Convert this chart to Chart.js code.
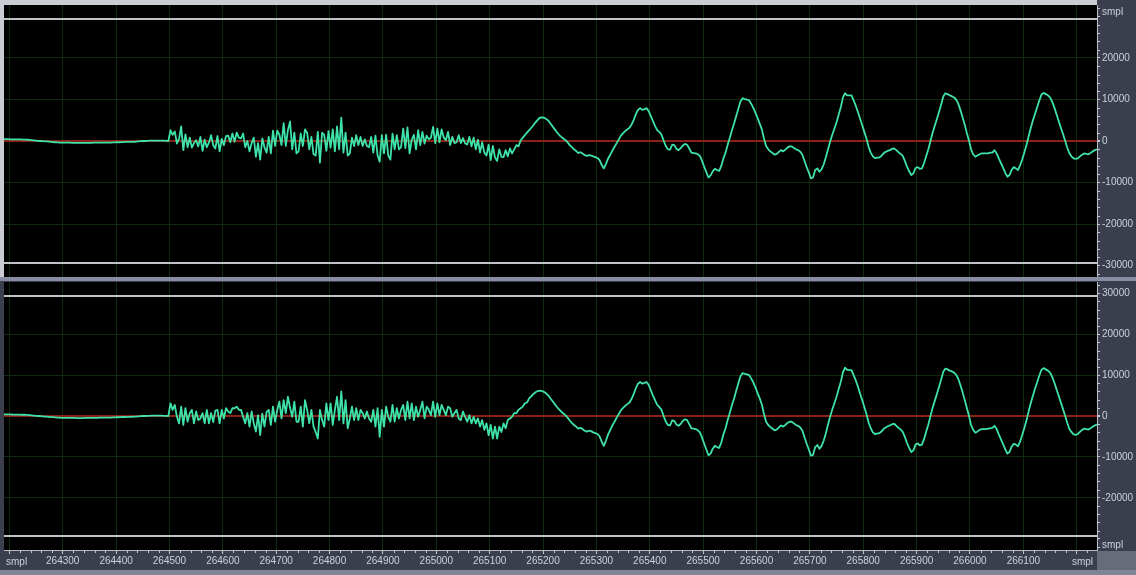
<!DOCTYPE html>
<html lang="en">
<head>
<meta charset="utf-8">
<title>Waveform view</title>
<script src="https://cdn.jsdelivr.net/npm/chart.js@4.4.1/dist/chart.umd.min.js"></script>
<style>
  html, body { margin:0; padding:0; width:1136px; height:575px; overflow:hidden; background:#3b3f4d; }
  #view { position:relative; width:1136px; height:575px; }
  #view canvas { position:absolute; left:0; }
  #topPane { top:0; }
  #bottomPane { top:281px; }
  #divider { position:absolute; left:0; top:277px; width:1136px; height:4px; background:#878ea3; }
</style>
</head>
<body>
<div id="view">
  <canvas id="topPane" width="1136" height="277"></canvas>
  <div id="divider"></div>
  <canvas id="bottomPane" width="1136" height="294"></canvas>
</div>
<script>
// Sample positions: first sample shown and spacing between stored values
const firstSample = 264190;
const sampleStep = 4;

// Time ruler ticks (samples) and level ruler ticks (sample values)
const sampleTicks = [264200, 264300, 264400, 264500, 264600, 264700, 264800, 264900, 265000,
  265100, 265200, 265300, 265400, 265500, 265600, 265700, 265800, 265900, 266000, 266100, 266200];
const levelTicks = [30000, 20000, 10000, 0, -10000, -20000, -30000];
const clipLevel = 29400;

// Channel 1 (upper pane)
const leftChannel = [
  450,450,450,400,400,400,400,400,400,350,
  350,300,250,200,150,100,50,0,-50,-100,
  -100,-150,-200,-250,-300,-350,-400,-400,-400,-400,
  -400,-400,-450,-450,-450,-450,-450,-450,-450,-450,
  -450,-450,-400,-400,-400,-400,-400,-400,-400,-400,
  -400,-350,-350,-300,-300,-250,-250,-200,-200,-200,
  -200,-200,-150,-100,-50,0,0,50,100,100,
  100,100,100,100,100,100,50,
  0,2600,1500,2300,-600,500,3500,-2200,1600,-1500,
  800,-1600,-500,200,-1300,1000,-2400,300,-1500,-400,
  1400,-1000,-1800,1200,-2500,500,-1000,1200,1300,-300,
  1800,-200,2000,800,600,1800,-1500,0,-2500,-500,
  800,-3800,-500,-4500,600,-1500,-2800,1000,-3000,2500,
  -1200,2500,1500,-1000,4300,-1200,2600,4700,-2000,2000,
  -3000,-2500,1800,-1200,2800,2000,-2000,1000,-3200,-3500,
  2200,-5200,2000,1500,-2400,2400,-1600,2800,-2500,3500,
  -2000,5600,-2800,2000,-3500,-3000,800,-1200,1400,-1000,
  1000,-1200,400,-1200,-1500,1000,-2800,1300,-3500,-5000,
  1400,-3000,1500,-3500,-4500,1800,-2000,1400,-2000,-1500,
  3000,-1700,3300,-3000,300,1500,-2000,2600,-1000,2200,
  -600,1300,400,800,3400,-500,3000,-300,2800,800,
  200,2200,-1000,1000,-500,-300,1400,-500,700,-600,
  -800,1000,-1300,800,-2000,300,-2800,-300,-2800,-3500,
  -900,-4600,-1200,-4000,-4800,-2000,-3800,-3900,-2200,-3700,
  -1800,-3000,-2000,-1000,-1300,100,800,1400,2000,2600,
  3200,3800,4500,5100,5600,5700,5600,5300,4900,4200,
  3500,2800,2100,1500,1000,600,200,-300,-1000,-1500,
  -2000,-2400,-2900,-2700,-3000,-3400,-3600,-3400,-3500,-3700,
  -3900,-4100,-4600,-5800,-6600,-5500,-4200,-3300,-2300,-1400,
  -500,400,1300,1900,2400,2800,3200,4000,5100,6500,
  7500,7900,7500,7700,7900,7200,6000,4800,3600,2600,
  2200,1500,100,-1200,-2000,-2100,-900,-1000,-1900,-2200,
  -1700,-1100,-700,-900,-1800,-2800,-2900,-3000,-3200,-3600,
  -4800,-6200,-7500,-8800,-8300,-7300,-6700,-7000,-7200,-6000,
  -4200,-2800,-900,800,2600,4200,6000,7800,9500,10300,
  10100,10000,9800,9000,8000,6800,5500,4200,2800,600,
  -1200,-2000,-2500,-2900,-3300,-3100,-2600,-2200,-2500,-2100,
  -1600,-1300,-1300,-1700,-2000,-2200,-2600,-3300,-4800,-6300,
  -7600,-9000,-8800,-7000,-6600,-7400,-6800,-5600,-3900,-2000,
  -100,1500,3000,4500,6400,8200,10500,11500,11000,11000,
  11000,9800,8500,7000,5400,3800,2200,600,-1400,-2800,
  -3700,-4100,-4000,-4000,-3600,-3000,-2600,-2400,-2200,-1900,
  -1800,-2200,-2700,-3100,-3600,-4800,-6200,-7300,-8200,-7800,
  -6500,-6300,-6700,-6600,-5300,-3600,-2000,0,2000,3700,
  5300,7000,8800,10700,11500,11300,11000,10800,10500,10000,
  9000,7500,5800,4000,2000,200,-2000,-3200,-3800,-3500,
  -3200,-3000,-3000,-3000,-3000,-2800,-2800,-2200,-3000,-4200,
  -5300,-6400,-7600,-8600,-8200,-7000,-6300,-6600,-7000,-5800,
  -4400,-2700,-900,1200,3200,5000,6600,8200,9800,11200,
  11600,11300,11000,10500,9500,8100,6500,4900,3300,1800,
  200,-1500,-2900,-3700,-4200,-4300,-4200,-3700,-3300,-3000,
  -3100,-3200,-2900,-2500,-2200,-2000
];

// Channel 2 (lower pane)
const rightChannel = [
  400,400,400,400,350,350,350,350,300,300,
  300,250,200,150,100,50,0,-50,-100,-150,
  -150,-200,-250,-300,-350,-400,-400,-450,-450,-450,
  -450,-450,-450,-450,-500,-500,-500,-500,-450,-450,
  -450,-450,-450,-450,-450,-400,-400,-400,-400,-400,
  -400,-350,-350,-300,-300,-250,-250,-250,-200,-200,
  -200,-150,-150,-100,-50,0,0,50,50,100,
  100,100,100,100,100,50,50,
  0,3100,1500,2700,-200,-1800,2300,-2200,1900,-1400,
  700,1500,-1800,1100,-1000,-600,700,-1800,1500,-1800,
  700,-1500,1300,1500,-1800,1500,-600,1900,1100,700,
  1900,1900,2300,1500,1500,-200,-1800,700,-2600,1100,
  -1800,-3800,200,-4700,600,-2600,1000,1500,-2200,2300,
  -1400,1500,3500,-600,3900,700,4700,2000,-200,3500,
  -1400,-1400,2300,-2600,3900,1500,-1800,1500,-2600,-3900,
  -5500,1500,-1000,-2600,3100,-1000,3100,-2200,1500,4700,
  -1000,6000,-1800,3900,-3000,-600,2300,-1000,1900,-1000,
  1500,700,-600,1100,-600,-1400,1500,-2600,1900,-5100,
  1500,-2600,2300,-200,-1400,2700,-1400,1900,-600,1500,
  2700,-1000,3500,-600,3100,-1000,2300,-200,1500,3500,
  -600,2300,1500,200,3500,-200,3100,200,2700,1500,
  200,2300,1900,-200,700,1500,-600,-1000,1100,-200,
  -1400,200,-1800,-200,-1800,-600,-2600,-1000,-3400,-1800,
  -4700,-2200,-5500,-2600,-5500,-2600,-3900,-1800,-3000,-1000,
  -600,-200,700,700,1500,1900,2300,3100,3300,4300,
  4800,5400,5800,6100,6200,6100,5900,5500,5000,4300,
  3600,2900,2200,1600,1100,600,200,-400,-1100,-1700,
  -2200,-2600,-3100,-2900,-3200,-3600,-3800,-3600,-3700,-4000,
  -4200,-4400,-5000,-6300,-7300,-6000,-4500,-3400,-2300,-1400,
  -400,500,1400,2000,2500,2900,3300,4200,5400,6800,
  7900,8300,7900,8100,8300,7600,6300,5000,3800,2700,
  2200,1500,0,-1400,-2200,-2300,-1100,-1200,-2100,-2400,
  -1900,-1200,-800,-1000,-2000,-3000,-3100,-3200,-3500,-4000,
  -5300,-6800,-8200,-9600,-9200,-8000,-7300,-7600,-7800,-6500,
  -4500,-3000,-1000,800,2700,4300,6200,8000,9700,10500,
  10300,10200,10000,9200,8200,7000,5600,4300,2800,500,
  -1400,-2200,-2700,-3100,-3500,-3300,-2800,-2300,-2600,-2200,
  -1700,-1400,-1400,-1800,-2200,-2400,-2800,-3600,-5200,-6800,
  -8200,-9700,-9500,-7600,-7100,-8000,-7300,-6000,-4200,-2100,
  -100,1600,3100,4700,6600,8400,10700,11800,11300,11200,
  11200,10000,8700,7200,5500,3900,2200,500,-1600,-3000,
  -4000,-4400,-4300,-4200,-3800,-3200,-2800,-2500,-2300,-2000,
  -1900,-2400,-2900,-3300,-3900,-5100,-6600,-7800,-8800,-8400,
  -7000,-6700,-7200,-7000,-5600,-3800,-2100,0,2000,3700,
  5400,7100,8900,10800,11600,11400,11100,10900,10600,10100,
  9100,7600,5900,4000,2000,100,-2200,-3400,-4100,-3800,
  -3400,-3200,-3200,-3200,-3100,-3000,-2900,-2400,-3200,-4500,
  -5700,-6900,-8100,-9200,-8800,-7500,-6800,-7000,-7400,-6200,
  -4600,-2900,-1000,1200,3200,5000,6700,8300,9900,11300,
  11700,11400,11100,10600,9600,8200,6600,5000,3400,1800,
  200,-1600,-3100,-3900,-4500,-4600,-4400,-3900,-3400,-3100,
  -3200,-3300,-3000,-2600,-2300,-2100
];

const viewStart = firstSample;
const viewEnd = firstSample + (leftChannel.length - 1) * sampleStep;

const COLORS = {
  strip: '#3b3f4d',
  frame: '#c9ccd2',
  grid: '#102a10',
  zero: '#8a2216',
  clip: '#bfc2c6',
  axis: '#b9bdc7',
  tick: '#c3c7d1',
  text: '#cdd1da',
  wave: '#3fe2a8',
  corner: '#676c7b',
  footer: '#80869a'
};
const LABEL_FONT = "10px 'Liberation Sans', Arial, sans-serif";

Chart.defaults.font.family = "'Liberation Sans', Arial, sans-serif";
Chart.defaults.font.size = 10;

function toPoints(values) {
  return values.map((v, k) => ({ x: firstSample + k * sampleStep, y: v }));
}

// Pane background, clip-level guides, minor ruler ticks and unit captions
const panePlugin = {
  id: 'pane',
  beforeDraw(chart, args, o) {
    const { ctx, chartArea: a } = chart;
    ctx.save();
    ctx.fillStyle = COLORS.strip;
    ctx.fillRect(0, 0, chart.width, chart.height);
    ctx.fillStyle = '#000';
    ctx.fillRect(a.left, a.top, a.right - a.left, a.bottom - a.top);
    if (o.frame) {
      ctx.fillStyle = COLORS.frame;
      ctx.fillRect(0, 0, a.right, a.top);
      ctx.fillRect(0, 0, a.left, a.bottom);
    }
    ctx.restore();
  },
  beforeDatasetsDraw(chart) {
    const { ctx, chartArea: a, scales: { y } } = chart;
    ctx.save();
    ctx.strokeStyle = COLORS.clip;
    ctx.lineWidth = 2;
    for (const v of [clipLevel, -clipLevel]) {
      const py = Math.round(y.getPixelForValue(v));
      ctx.beginPath();
      ctx.moveTo(a.left, py);
      ctx.lineTo(a.right, py);
      ctx.stroke();
    }
    ctx.restore();
  },
  afterDraw(chart, args, o) {
    const { ctx, chartArea: a, scales: { x, y } } = chart;
    ctx.save();
    ctx.fillStyle = COLORS.tick;
    for (let v = -32000; v <= 32000; v += 2000) {
      if (v % 10000 === 0) continue;
      ctx.fillRect(a.right + 1, Math.round(y.getPixelForValue(v)), 2, 1);
    }
    ctx.font = LABEL_FONT;
    ctx.textBaseline = 'middle';
    ctx.textAlign = 'left';
    ctx.fillStyle = COLORS.text;
    ctx.fillText('smpl', a.right + 5, o.unitAtTop ? a.top + 7 : a.bottom - 5);

    if (o.timeAxis) {
      ctx.fillStyle = COLORS.tick;
      for (let s = sampleTicks[0] - 100; s <= viewEnd; s += 20) {
        if (s < viewStart || s % 100 === 0) continue;
        ctx.fillRect(Math.round(x.getPixelForValue(s)), a.bottom + 1, 1, 2);
      }
      ctx.fillStyle = COLORS.corner;
      ctx.fillRect(a.right, a.bottom + 1, chart.width - a.right, chart.height - a.bottom);
      ctx.fillStyle = COLORS.footer;
      ctx.fillRect(0, chart.height - 5, chart.width, 5);
      ctx.fillStyle = COLORS.text;
      ctx.textAlign = 'left';
      ctx.fillText('smpl', 6, a.bottom + 12);
      ctx.textAlign = 'right';
      ctx.fillText('smpl', 1093, a.bottom + 12);
    }
    ctx.restore();
  }
};

function sampleScale(withLabels) {
  return {
    type: 'linear',
    min: viewStart,
    max: viewEnd,
    afterBuildTicks: s => { s.ticks = sampleTicks.map(v => ({ value: v })); },
    afterFit: s => { s.height = withLabels ? 25 : 0; s.paddingLeft = 0; s.paddingRight = 0; },
    grid: { color: COLORS.grid, lineWidth: 1, drawTicks: withLabels, tickLength: 4, tickColor: COLORS.tick },
    border: { display: withLabels, color: COLORS.axis, width: 1 },
    ticks: {
      display: withLabels,
      color: COLORS.text,
      padding: 1,
      autoSkip: false,
      maxRotation: 0,
      minRotation: 0,
      callback: (v, i) => (i === 0 || i === sampleTicks.length - 1) ? '' : String(v)
    }
  };
}

function levelScale(hiddenLabel) {
  return {
    position: 'right',
    min: -32768,
    max: 32768,
    afterBuildTicks: s => { s.ticks = levelTicks.map(v => ({ value: v })); },
    afterFit: s => { s.width = 39; s.paddingTop = 0; s.paddingBottom = 0; },
    grid: {
      color: c => {
        const v = c.tick ? c.tick.value : null;
        if (v === 0) return COLORS.zero;
        if (v !== null && Math.abs(v) >= 30000) return 'rgba(0,0,0,0)';
        return COLORS.grid;
      },
      lineWidth: c => (c.tick && c.tick.value === 0) ? 2 : 1,
      tickColor: COLORS.tick,
      tickLength: 3,
      drawTicks: true
    },
    border: { display: true, color: COLORS.axis, width: 1 },
    ticks: {
      color: COLORS.text,
      padding: 2,
      autoSkip: false,
      callback: v => v === hiddenLabel ? '' : String(v)
    }
  };
}

function makePane(canvasId, values, opts) {
  return new Chart(document.getElementById(canvasId), {
    type: 'line',
    data: {
      datasets: [{
        data: toPoints(values),
        borderColor: COLORS.wave,
        borderWidth: 1.8,
        borderJoinStyle: 'round',
        pointRadius: 0,
        tension: 0,
        fill: false
      }]
    },
    options: {
      responsive: false,
      animation: false,
      events: [],
      layout: { padding: { top: opts.padTop, left: 4, right: 0, bottom: 0 } },
      plugins: {
        legend: { display: false },
        tooltip: { enabled: false },
        pane: { frame: opts.frame, unitAtTop: opts.unitAtTop, timeAxis: opts.timeAxis }
      },
      scales: {
        x: sampleScale(opts.timeAxis),
        y: levelScale(opts.hiddenLabel)
      }
    },
    plugins: [panePlugin]
  });
}

makePane('topPane', leftChannel, { padTop: 5, frame: true, unitAtTop: true, timeAxis: false, hiddenLabel: 30000 });
makePane('bottomPane', rightChannel, { padTop: 1, frame: false, unitAtTop: false, timeAxis: true, hiddenLabel: -30000 });
</script>
</body>
</html>
